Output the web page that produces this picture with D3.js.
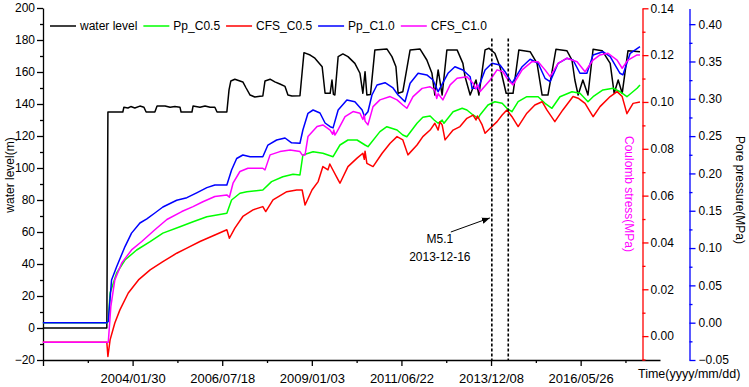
<!DOCTYPE html>
<html>
<head>
<meta charset="utf-8">
<script src="https://cdn.jsdelivr.net/npm/d3@7"></script>
<style>
body { margin: 0; background: #fff; }
svg { font-family: Arial, "Liberation Sans", sans-serif; }
</style>
</head>
<body>
<div id="chart-area"></div>
<script>
// Series values, time in decimal years
const waterLevel = [
  [2001.61, 0], [2003.37, 0], [2003.40, 135], [2003.81, 135], [2003.84, 138], [2003.95, 137.5],
  [2004.03, 138.4], [2004.14, 137.5], [2004.28, 138.7], [2004.39, 138], [2004.45, 135], [2004.69, 135],
  [2004.75, 138.7], [2004.97, 138.7], [2005.11, 138], [2005.24, 138.5], [2005.38, 138], [2005.41, 135],
  [2005.71, 135], [2005.74, 138.7], [2005.93, 138], [2006.07, 138.7], [2006.21, 138], [2006.34, 138],
  [2006.40, 135], [2006.67, 135], [2006.73, 148.8], [2006.78, 154.4], [2006.89, 155.5], [2007.03, 154.4],
  [2007.11, 153.8], [2007.20, 150], [2007.31, 145.6], [2007.44, 144.4], [2007.58, 144.8], [2007.66, 145],
  [2007.72, 154.4], [2007.86, 155.5], [2007.99, 153.8], [2008.13, 152.5], [2008.27, 151], [2008.35, 145.6],
  [2008.46, 145], [2008.68, 145.2], [2008.74, 160], [2008.79, 172.1], [2008.96, 170.6], [2009.09, 168.6],
  [2009.29, 163.3], [2009.31, 159.2], [2009.37, 146.7], [2009.51, 146.7], [2009.56, 155], [2009.60, 146],
  [2009.64, 145.6], [2009.73, 169.6], [2009.86, 171.3], [2010.00, 169.6], [2010.19, 165.4], [2010.33, 159.2],
  [2010.41, 146.7], [2010.47, 160.2], [2010.52, 145.6], [2010.62, 146], [2010.74, 173.8], [2011.07, 174.4],
  [2011.21, 169.6], [2011.32, 163.3], [2011.38, 146.7], [2011.51, 147.7], [2011.71, 173.8], [2011.98, 174.4],
  [2012.17, 167.5], [2012.31, 159.2], [2012.39, 145.6], [2012.48, 161.3], [2012.59, 145.6], [2012.72, 173.8],
  [2013.00, 173.8], [2013.16, 165.4], [2013.22, 157], [2013.36, 145.6], [2013.52, 155], [2013.60, 145.6],
  [2013.77, 173.8], [2013.88, 174.8], [2014.04, 171.7], [2014.18, 163.3], [2014.35, 146.7], [2014.54, 146.7],
  [2014.70, 173.8], [2015.01, 172.7], [2015.20, 165.4], [2015.34, 145.6], [2015.50, 145.6], [2015.72, 174.2],
  [2016.02, 173.3], [2016.16, 167.5], [2016.24, 155], [2016.33, 145.6], [2016.46, 155], [2016.60, 145.6],
  [2016.74, 174.2], [2016.99, 173.3], [2017.21, 165.4], [2017.32, 146.7], [2017.43, 155], [2017.54, 146.7],
  [2017.70, 173.3], [2018.03, 172.7]
];

const ppC05 = [
  [2001.61, 0], [2003.37, 0], [2003.41, 0.002], [2003.46, 0.0398], [2003.64, 0.0666], [2003.87, 0.084],
  [2004.19, 0.0974], [2004.56, 0.1085], [2004.91, 0.120], [2005.38, 0.1286], [2005.74, 0.1353],
  [2006.12, 0.142], [2006.67, 0.1466], [2006.80, 0.1644], [2007.03, 0.1734], [2007.22, 0.1755],
  [2007.66, 0.1778], [2007.90, 0.189], [2008.21, 0.1956], [2008.49, 0.1989], [2008.68, 0.198],
  [2008.76, 0.2247], [2009.04, 0.2291], [2009.31, 0.227], [2009.59, 0.2224], [2009.78, 0.2381],
  [2010.00, 0.2448], [2010.25, 0.2448], [2010.47, 0.2381], [2010.55, 0.2358], [2010.88, 0.256],
  [2011.07, 0.2626], [2011.35, 0.2582], [2011.51, 0.2515], [2011.62, 0.2492], [2011.90, 0.2672],
  [2012.06, 0.2752], [2012.26, 0.277], [2012.37, 0.2716], [2012.48, 0.2672], [2012.59, 0.2716],
  [2012.64, 0.2672], [2012.89, 0.2827], [2013.14, 0.2873], [2013.27, 0.285], [2013.44, 0.2783],
  [2013.58, 0.2739], [2013.63, 0.2783], [2013.85, 0.2917], [2014.04, 0.2961], [2014.24, 0.294],
  [2014.37, 0.2873], [2014.51, 0.2827], [2014.68, 0.2961], [2014.92, 0.3028], [2015.23, 0.3028],
  [2015.42, 0.294], [2015.61, 0.2873], [2015.83, 0.3028], [2016.16, 0.3095], [2016.38, 0.3074],
  [2016.60, 0.2961], [2016.74, 0.3028], [2017.01, 0.3118], [2017.29, 0.3141], [2017.48, 0.3095],
  [2017.67, 0.3028], [2017.95, 0.3141], [2018.03, 0.3185]
];

const cfsC05 = [
  [2001.61, -0.0026], [2003.37, -0.0026], [2003.40, -0.0087], [2003.46, -0.0016], [2003.59, 0.0056],
  [2003.73, 0.0112], [2003.96, 0.0184], [2004.24, 0.0240], [2004.56, 0.0283], [2004.91, 0.0318],
  [2005.29, 0.0354], [2005.57, 0.0376], [2005.93, 0.0404], [2006.34, 0.0432], [2006.67, 0.0454],
  [2006.74, 0.0418], [2006.89, 0.0461], [2007.11, 0.0511], [2007.39, 0.0539], [2007.66, 0.0553],
  [2007.74, 0.0532], [2007.94, 0.0582], [2008.32, 0.0617], [2008.59, 0.0624], [2008.74, 0.0624],
  [2008.82, 0.0560], [2009.01, 0.0624], [2009.18, 0.0660], [2009.31, 0.0724], [2009.45, 0.0710],
  [2009.50, 0.0735], [2009.56, 0.0717], [2009.73, 0.0667], [2009.78, 0.0653], [2010.00, 0.0724],
  [2010.25, 0.0760], [2010.41, 0.0781], [2010.45, 0.0755], [2010.47, 0.0790], [2010.52, 0.0738],
  [2010.69, 0.0724], [2010.94, 0.0781], [2011.16, 0.0824], [2011.35, 0.0852], [2011.51, 0.0838],
  [2011.65, 0.0774], [2011.90, 0.0816], [2012.06, 0.0852], [2012.26, 0.0880], [2012.39, 0.0909],
  [2012.48, 0.0880], [2012.53, 0.0915], [2012.59, 0.0902], [2012.67, 0.0838], [2012.89, 0.0880],
  [2013.08, 0.0895], [2013.27, 0.0930], [2013.44, 0.0944], [2013.52, 0.0923], [2013.56, 0.0940],
  [2013.69, 0.0902], [2013.77, 0.0866], [2013.91, 0.0888], [2014.10, 0.0916], [2014.24, 0.0944],
  [2014.37, 0.0966], [2014.51, 0.0937], [2014.68, 0.0895], [2014.92, 0.0952], [2015.14, 0.0987],
  [2015.34, 0.1001], [2015.47, 0.0966], [2015.69, 0.0916], [2015.91, 0.0966], [2016.19, 0.1023],
  [2016.33, 0.1016], [2016.52, 0.0994], [2016.74, 0.0937], [2016.93, 0.0980], [2017.21, 0.1023],
  [2017.40, 0.1044], [2017.54, 0.1023], [2017.67, 0.0950], [2017.84, 0.0994], [2018.03, 0.1000]
];

const ppC10 = [
  [2001.61, 0], [2003.37, 0], [2003.41, 0.002], [2003.50, 0.0572], [2003.64, 0.075], [2003.87, 0.102],
  [2004.05, 0.120], [2004.28, 0.1336], [2004.47, 0.139], [2004.69, 0.147], [2004.91, 0.155],
  [2005.29, 0.164], [2005.57, 0.1675], [2005.84, 0.174], [2006.12, 0.181], [2006.34, 0.1845],
  [2006.67, 0.1845], [2006.80, 0.2046], [2006.94, 0.220], [2007.11, 0.2247], [2007.31, 0.2224],
  [2007.66, 0.2224], [2007.80, 0.238], [2008.04, 0.2448], [2008.27, 0.2475], [2008.45, 0.241],
  [2008.68, 0.2404], [2008.76, 0.2582], [2008.90, 0.2806], [2009.04, 0.285], [2009.23, 0.281],
  [2009.37, 0.2676], [2009.51, 0.2626], [2009.59, 0.261], [2009.73, 0.285], [2009.97, 0.2984],
  [2010.19, 0.2961], [2010.39, 0.285], [2010.45, 0.2770], [2010.55, 0.2827], [2010.66, 0.3051],
  [2010.80, 0.3185], [2011.02, 0.3216], [2011.24, 0.3145], [2011.38, 0.3051], [2011.57, 0.2961],
  [2011.71, 0.3208], [2011.93, 0.3342], [2012.17, 0.332], [2012.34, 0.3252], [2012.48, 0.3095],
  [2012.75, 0.3342], [2012.94, 0.343], [2013.16, 0.3386], [2013.36, 0.3296], [2013.41, 0.3141],
  [2013.58, 0.3141], [2013.77, 0.3386], [2013.96, 0.3476], [2014.18, 0.3453], [2014.32, 0.3363],
  [2014.51, 0.3208], [2014.79, 0.343], [2015.01, 0.353], [2015.23, 0.3476], [2015.42, 0.3275],
  [2015.56, 0.323], [2015.78, 0.3476], [2016.02, 0.3543], [2016.19, 0.352], [2016.38, 0.3342],
  [2016.57, 0.3342], [2016.74, 0.3587], [2017.01, 0.3631], [2017.21, 0.3564], [2017.48, 0.3342],
  [2017.56, 0.332], [2017.76, 0.361], [2018.03, 0.3698]
];

const cfsC10 = [
  [2001.61, -0.0026], [2003.37, -0.0026], [2003.41, -0.0026], [2003.48, 0.0126], [2003.59, 0.0240],
  [2003.78, 0.0312], [2004.05, 0.0368], [2004.33, 0.0404], [2004.69, 0.0454], [2005.02, 0.0498],
  [2005.43, 0.0532], [2005.74, 0.0553], [2006.01, 0.0574], [2006.34, 0.0596], [2006.67, 0.0603],
  [2006.74, 0.0593], [2006.84, 0.0653], [2007.03, 0.0703], [2007.25, 0.0717], [2007.66, 0.0717],
  [2007.72, 0.0710], [2007.86, 0.0774], [2008.13, 0.0788], [2008.41, 0.0795], [2008.68, 0.0788],
  [2008.74, 0.0774], [2008.82, 0.0774], [2008.90, 0.0852], [2009.15, 0.0895], [2009.31, 0.0902],
  [2009.51, 0.0880], [2009.58, 0.0862], [2009.61, 0.0880], [2009.64, 0.0859], [2009.70, 0.0873],
  [2009.92, 0.0937], [2010.14, 0.0959], [2010.33, 0.0952], [2010.41, 0.0925], [2010.45, 0.0945],
  [2010.47, 0.0918], [2010.55, 0.0902], [2010.69, 0.0980], [2010.88, 0.1009], [2011.16, 0.1023],
  [2011.35, 0.1009], [2011.51, 0.0987], [2011.62, 0.0973], [2011.79, 0.1023], [2012.04, 0.1058],
  [2012.26, 0.1065], [2012.39, 0.1051], [2012.44, 0.1015], [2012.48, 0.1035], [2012.61, 0.1009],
  [2012.81, 0.1073], [2013.00, 0.1101], [2013.27, 0.1108], [2013.44, 0.1080], [2013.52, 0.1055],
  [2013.56, 0.1075], [2013.63, 0.1044], [2013.91, 0.1094], [2014.10, 0.1137], [2014.26, 0.1129],
  [2014.40, 0.1094], [2014.54, 0.1073], [2014.79, 0.1137], [2015.06, 0.1172], [2015.23, 0.1172],
  [2015.42, 0.1137], [2015.56, 0.1108], [2015.78, 0.1165], [2016.02, 0.1187], [2016.30, 0.1172],
  [2016.52, 0.1129], [2016.74, 0.1179], [2016.93, 0.1201], [2017.15, 0.1208], [2017.40, 0.1179],
  [2017.54, 0.1144], [2017.70, 0.1179], [2017.95, 0.1201], [2018.03, 0.1201]
];

const seriesNames = ['water level', 'Pp_C0.5', 'CFS_C0.5', 'Pp_C1.0', 'CFS_C1.0'];
const seriesColors = ['#000000', '#00ff00', '#ff0000', '#0000ff', '#ff00ff'];

// Tick labels
const xTickLabels = ['2004/01/30', '2006/07/18', '2009/01/03', '2011/06/22', '2013/12/08', '2016/05/26'];
const leftTicks = [-20, 0, 20, 40, 60, 80, 100, 120, 140, 160, 180, 200];
const cfsTicks = [0, 0.02, 0.04, 0.06, 0.08, 0.10, 0.12, 0.14];
const ppTicks = [-0.05, 0, 0.05, 0.10, 0.15, 0.20, 0.25, 0.30, 0.35, 0.40];

// Earthquake marks
const eventDates = ['2013/12/16', '2014/05/30'];
const eventText = ['M5.1', '2013-12-16'];

const W = 749, H = 387;
const plot = { left: 43, right: 660, top: 8, bottom: 360 };

const parseDate = d3.timeParse('%Y/%m/%d');
function fromYear(t) {
    const y = Math.floor(t);
    const a = new Date(y, 0, 1), b = new Date(y + 1, 0, 1);
    return new Date(+a + (t - y) * (b - a));
}

const svg = d3.select('#chart-area')
    .append('svg')
    .attr('width', W)
    .attr('height', H);

// Scales
const x = d3.scaleTime()
    .domain([new Date(2001, 7, 13), new Date(2018, 7, 1)])
    .range([plot.left, plot.right]);

const yLeft = d3.scaleLinear().domain([-20, 200]).range([plot.bottom, plot.top]);
const yCfs = d3.scaleLinear().domain([-0.0102, 0.14]).range([plot.bottom, 8.3]);
const yPp = d3.scaleLinear().domain([-0.05, 0.421]).range([plot.bottom, 8.5]);

const redAxisX = 642.5;
const blueAxisX = 689.5;

// X axis ticks
const majorDates = [x.domain()[0]].concat(xTickLabels.map(parseDate));
const minorDates = majorDates.map(d => d3.timeDay.offset(d, 450)).filter(d => d <= x.domain()[1]);
const fmt = d3.timeFormat('%Y/%m/%d');

const xAxis = svg.append('g')
    .attr('transform', 'translate(0,' + plot.bottom + ')')
    .call(d3.axisBottom(x).tickValues(majorDates).tickSize(6).tickSizeOuter(0).tickPadding(8)
        .tickFormat((d, i) => i === 0 ? '' : fmt(d)));
xAxis.selectAll('text').attr('font-size', '13px');
svg.append('g')
    .attr('transform', 'translate(0,' + plot.bottom + ')')
    .call(d3.axisBottom(x).tickValues(minorDates).tickSize(3).tickFormat(''))
    .select('.domain').remove();

// Left axis
const leftAxis = svg.append('g')
    .attr('transform', 'translate(' + plot.left + ',0)')
    .call(d3.axisLeft(yLeft).tickValues(leftTicks).tickSize(6).tickSizeOuter(0).tickPadding(2));
leftAxis.selectAll('text').attr('font-size', '12px');
svg.append('g')
    .attr('transform', 'translate(' + plot.left + ',0)')
    .call(d3.axisLeft(yLeft).tickValues(d3.range(-10, 200, 20)).tickSize(3).tickFormat(''))
    .select('.domain').remove();

// Red (Coulomb stress) axis
const cfsAxis = svg.append('g')
    .attr('transform', 'translate(' + redAxisX + ',0)')
    .call(d3.axisRight(yCfs).tickValues(cfsTicks).tickSize(6).tickSizeOuter(0).tickPadding(2)
        .tickFormat(d3.format('.2f')));
const cfsMinor = svg.append('g')
    .attr('transform', 'translate(' + redAxisX + ',0)')
    .call(d3.axisRight(yCfs).tickValues([-0.01, 0.01, 0.03, 0.05, 0.07, 0.09, 0.11, 0.13]).tickSize(3).tickFormat(''));
cfsMinor.select('.domain').remove();

// Blue (pore pressure) axis
const ppAxis = svg.append('g')
    .attr('transform', 'translate(' + blueAxisX + ',0)')
    .call(d3.axisRight(yPp).tickValues(ppTicks).tickSize(6).tickSizeOuter(0).tickPadding(3)
        .tickFormat(d3.format('.2f')));
const ppMinor = svg.append('g')
    .attr('transform', 'translate(' + blueAxisX + ',0)')
    .call(d3.axisRight(yPp).tickValues([-0.025, 0.025, 0.075, 0.125, 0.175, 0.225, 0.275, 0.325, 0.375]).tickSize(3).tickFormat(''));
ppMinor.select('.domain').remove();

svg.selectAll('.domain, .tick line').attr('stroke-width', 1.3);
cfsAxis.selectAll('text').attr('font-size', '12px');
ppAxis.selectAll('text').attr('font-size', '12px');
cfsAxis.selectAll('.domain, .tick line').attr('stroke', '#ff0000');
cfsMinor.selectAll('.tick line').attr('stroke', '#ff0000');
ppAxis.selectAll('.domain, .tick line').attr('stroke', '#0000ff');
ppMinor.selectAll('.tick line').attr('stroke', '#0000ff');
svg.selectAll('.tick text').attr('fill', '#000');

// Axis labels
svg.append('text')
    .attr('transform', 'translate(14,175) rotate(-90)')
    .attr('text-anchor', 'middle')
    .attr('font-size', '12px')
    .text('water level(m)');

svg.append('text')
    .attr('transform', 'translate(625,194) rotate(90)')
    .attr('text-anchor', 'middle')
    .attr('font-size', '12px')
    .attr('fill', '#ff00ff')
    .text('Coulomb stress(MPa)');

svg.append('text')
    .attr('transform', 'translate(736,190) rotate(90)')
    .attr('text-anchor', 'middle')
    .attr('font-size', '12px')
    .text('Pore pressure(MPa)');

svg.append('text')
    .attr('x', 638)
    .attr('y', 378)
    .attr('font-size', '12.5px')
    .text('Time(yyyy/mm/dd)');

// Lines
const seriesData = [waterLevel, ppC05, cfsC05, ppC10, cfsC10];
const seriesScale = [yLeft, yPp, yCfs, yPp, yCfs];

seriesData.forEach((data, i) => {
    const line = d3.line()
        .x(d => x(fromYear(d[0])))
        .y(d => seriesScale[i](d[1]));
    svg.append('path')
        .datum(data)
        .attr('fill', 'none')
        .attr('stroke', seriesColors[i])
        .attr('stroke-width', 1.5)
        .attr('stroke-linejoin', 'round')
        .attr('d', line);
});

// Earthquake dashed lines
const evX = eventDates.map(d => x(parseDate(d)));
evX.forEach(ex => {
    svg.append('line')
        .attr('x1', ex).attr('x2', ex)
        .attr('y1', yLeft(181)).attr('y2', plot.bottom)
        .attr('stroke', '#000')
        .attr('stroke-width', 1.6)
        .attr('stroke-dasharray', '3,2');
});

// Arrow
svg.append('defs').append('marker')
    .attr('id', 'arrow')
    .attr('viewBox', '0 0 10 10')
    .attr('refX', 10).attr('refY', 5)
    .attr('markerWidth', 8).attr('markerHeight', 8)
    .attr('markerUnits', 'userSpaceOnUse')
    .attr('orient', 'auto')
    .append('path')
    .attr('d', 'M0,1 L10,5 L0,9 Z')
    .attr('fill', '#000');

svg.append('line')
    .attr('x1', evX[0] - 41).attr('y1', yLeft(60))
    .attr('x2', evX[0] - 2).attr('y2', yLeft(68.8))
    .attr('stroke', '#000')
    .attr('stroke-width', 1)
    .attr('marker-end', 'url(#arrow)');

eventText.forEach((t, i) => {
    svg.append('text')
        .attr('x', evX[0] - 52)
        .attr('y', 243 + i * 18)
        .attr('text-anchor', 'middle')
        .attr('font-size', '12px')
        .text(t);
});

// Legend
const legend = svg.append('g').attr('font-size', '12px');
let lx = 50;
seriesNames.forEach((name, i) => {
    legend.append('line')
        .attr('x1', lx).attr('x2', lx + 26)
        .attr('y1', 26).attr('y2', 26)
        .attr('stroke', seriesColors[i])
        .attr('stroke-width', 1.5);
    const t = legend.append('text')
        .attr('x', lx + 30)
        .attr('y', 30)
        .text(name);
    lx += 30 + t.node().getComputedTextLength() + 6;
});
</script>
</body>
</html>
